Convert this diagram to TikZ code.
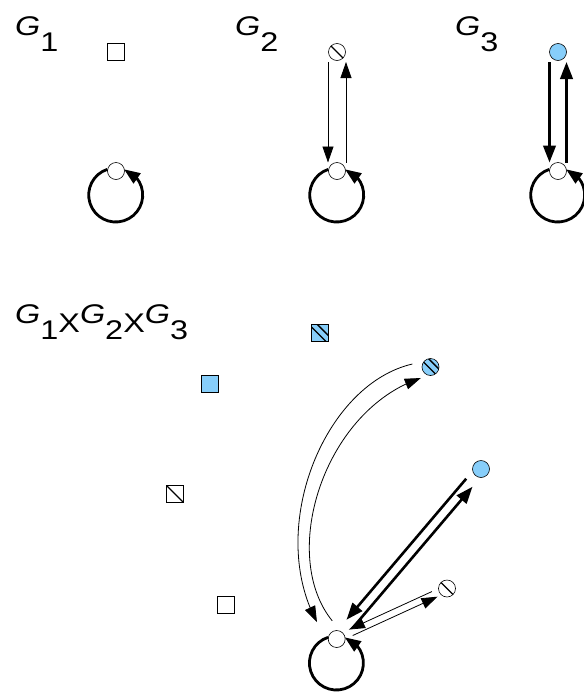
\documentclass[tikz,border=0pt]{standalone}
\usepackage{fontspec}
\setmainfont{Liberation Sans}
\usetikzlibrary{arrows.meta,bending,calc}
\definecolor{skyblue}{RGB}{135,206,250}
\newcommand{\gname}[1]{\textit{G}\raisebox{-0.6em}{#1}}
\newcommand{\prodx}{\raisebox{-0.36em}{X}}

\begin{document}
\begin{tikzpicture}[x=1pt,y=1pt,
  state/.style={circle, draw, fill=white, line width=0.6pt, minimum size=17pt, inner sep=0pt},
  sqstate/.style={rectangle, draw, fill=white, line width=0.6pt, minimum size=17pt, inner sep=0pt},
  blue/.style={fill=skyblue},
  crossed/.style={path picture={\draw[line width=1.3pt] (path picture bounding box.north west) -- (path picture bounding box.south east);}},
  hatched/.style={path picture={
    \draw[line width=1.3pt] ([shift={(-1pt,-1pt)}]path picture bounding box.north west) -- ([shift={(-1pt,-1pt)}]path picture bounding box.south east);
    \draw[line width=1.3pt] ([shift={(3.2pt,3.2pt)}]path picture bounding box.north west) -- ([shift={(3.2pt,3.2pt)}]path picture bounding box.south east);}},
  glabel/.style={anchor=base west, inner sep=0pt, font=\fontsize{27}{31}\selectfont},
  thinedge/.style={line width=0.8pt, -{Triangle[length=16pt,width=11pt,flex]}},
  thickedge/.style={line width=2.6pt, -{Triangle[length=17pt,width=12.5pt,flex]}},
  loopedge/.style={line width=2.8pt, -{Triangle[length=16pt,width=12pt,flex]}}]
\useasboundingbox (0,0) rectangle (584,-694);

% the three factor graphs
\node[glabel] (lab1) at (15,-35) {\scalebox{1.2}[1]{\gname{1}}};
\node[glabel] (lab2) at (235,-35) {\scalebox{1.2}[1]{\gname{2}}};
\node[glabel] (lab3) at (455,-35) {\scalebox{1.2}[1]{\gname{3}}};

\node[sqstate] (s1) at (115.5,-52) {};
\node[state] (o1) at (116,-171) {};

\node[state, crossed] (x2) at (337,-52) {};
\node[state] (o2) at (337,-171) {};

\node[state, blue] (b3) at (558,-52) {};
\node[state] (o3) at (558,-171) {};

\draw[loopedge] (o1.169) arc[start angle=108, end angle=432, radius=27pt];
\draw[loopedge] (o2.169) arc[start angle=108, end angle=432, radius=27pt];
\draw[loopedge] (o3.169) arc[start angle=108, end angle=432, radius=27pt];

\draw[thinedge, shorten <=10pt, shorten >=8.5pt] ($(x2)!9pt!-90:(o2)$) -- ($(o2)!9pt!90:(x2)$);
\draw[thinedge, shorten <=8.5pt, shorten >=10pt] ($(o2)!9pt!-90:(x2)$) -- ($(x2)!9pt!90:(o2)$);
\draw[thickedge, shorten <=10pt, shorten >=8.5pt] ($(b3)!8.5pt!-90:(o3)$) -- ($(o3)!8.5pt!90:(b3)$);
\draw[thickedge, shorten <=8.5pt, shorten >=10pt] ($(o3)!8.5pt!-90:(b3)$) -- ($(b3)!8.5pt!90:(o3)$);

% the product
\node[glabel] (labp) at (15,-323) {\scalebox{1.2}[1]{\gname{1}\prodx\gname{2}\prodx\gname{3}}};

\node[sqstate, blue, hatched] (sxb) at (319.5,-333) {};
\node[sqstate, blue] (sb) at (209.5,-384) {};
\node[sqstate, crossed] (sx) at (175,-494) {};
\node[sqstate] (s) at (226,-605) {};
\node[state, blue, hatched] (oxb) at (430.5,-367) {};
\node[state, blue] (ob) at (481,-469) {};
\node[state, crossed] (ox) at (447,-588.5) {};
\node[state] (o) at (336.7,-639) {};

\draw[loopedge] (o.169) arc[start angle=108, end angle=432, radius=27pt];

\draw[thickedge, shorten <=17pt, shorten >=21pt] ($(ob)!5pt!-90:(o)$) -- ($(o)!5pt!90:(ob)$);
\draw[thickedge, shorten <=19pt, shorten >=19pt] ($(o)!5pt!-90:(ob)$) -- ($(ob)!5pt!90:(o)$);

\draw[thinedge, shorten <=15pt, shorten >=15pt] ($(ox)!3.5pt!-90:(o)$) -- ($(o)!3.5pt!90:(ox)$);
\draw[thinedge, shorten <=16pt, shorten >=12pt] ($(o)!3.5pt!-90:(ox)$) -- ($(ox)!3.5pt!90:(o)$);

\draw[thinedge, shorten <=17pt, shorten >=26pt] ([shift={(-1.6,6.8)}]oxb.center) to[out=193, in=129, looseness=1] ([shift={(-5.5,-4.4)}]o.center);
\draw[thinedge, shorten <=17pt, shorten >=12pt] ([shift={(6.2,5)}]o.center) to[out=129, in=193, looseness=1] ([shift={(1.8,-7.8)}]oxb.center);
\end{tikzpicture}
\end{document}
